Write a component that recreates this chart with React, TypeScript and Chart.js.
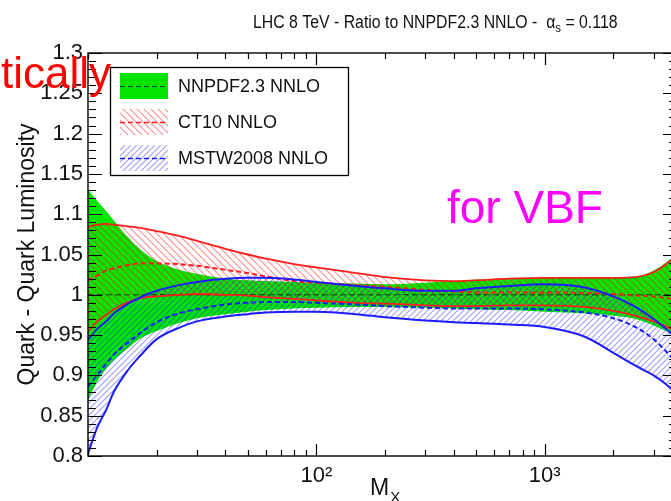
import React, { useEffect, useRef } from 'react';
import { Chart, registerables } from 'chart.js';

Chart.register(...registerables);

const FONT = '"Liberation Sans", Arial, Helvetica, sans-serif';

// M_X grid (GeV)
const massX = [10, 11, 12, 13, 15, 17, 20, 25, 30, 40, 50, 60, 80, 100, 150, 200, 300, 400, 500, 700, 1000, 1500, 2000, 2500, 3000, 3400, 3800];

// NNPDF2.3 NNLO band (ratio to itself)
const nnpdfUpper = [1.131, 1.116, 1.104, 1.092, 1.071, 1.056, 1.042, 1.031, 1.026, 1.020, 1.018, 1.017, 1.016, 1.015, 1.014, 1.013, 1.015, 1.017, 1.019, 1.020, 1.021, 1.021, 1.021, 1.022, 1.030, 1.040, 1.052];
const nnpdfLower = [0.869, 0.893, 0.908, 0.919, 0.934, 0.946, 0.955, 0.965, 0.971, 0.976, 0.979, 0.981, 0.983, 0.984, 0.985, 0.985, 0.984, 0.983, 0.982, 0.981, 0.979, 0.977, 0.974, 0.970, 0.962, 0.955, 0.947];
const nnpdfCentral = massX.map(() => 1.0);

// CT10 NNLO
const ct10Upper = [1.084, 1.087, 1.088, 1.087, 1.085, 1.083, 1.079, 1.073, 1.067, 1.057, 1.050, 1.045, 1.038, 1.034, 1.027, 1.022, 1.018, 1.017, 1.018, 1.020, 1.021, 1.021, 1.021, 1.022, 1.028, 1.038, 1.050];
const ct10Central = [1.018, 1.024, 1.030, 1.033, 1.037, 1.039, 1.039, 1.038, 1.036, 1.031, 1.027, 1.023, 1.017, 1.015, 1.012, 1.010, 1.006, 1.004, 1.003, 1.003, 1.003, 1.002, 1.001, 0.999, 0.998, 0.996, 0.994];
const ct10Lower = [0.954, 0.967, 0.975, 0.982, 0.991, 0.996, 0.998, 1.000, 1.001, 1.000, 0.999, 0.997, 0.995, 0.993, 0.990, 0.989, 0.987, 0.986, 0.986, 0.987, 0.987, 0.985, 0.980, 0.974, 0.967, 0.961, 0.954];

// MSTW2008 NNLO
const mstwUpper = [0.944, 0.958, 0.967, 0.977, 0.989, 0.997, 1.005, 1.012, 1.016, 1.020, 1.021, 1.021, 1.019, 1.016, 1.011, 1.008, 1.005, 1.005, 1.008, 1.011, 1.013, 1.009, 0.998, 0.985, 0.970, 0.958, 0.945];
const mstwCentral = [0.886, 0.901, 0.914, 0.926, 0.941, 0.953, 0.966, 0.977, 0.982, 0.988, 0.990, 0.991, 0.991, 0.990, 0.988, 0.986, 0.984, 0.983, 0.983, 0.983, 0.982, 0.978, 0.971, 0.960, 0.945, 0.930, 0.915];
const mstwLower = [0.803, 0.836, 0.857, 0.880, 0.907, 0.925, 0.945, 0.959, 0.967, 0.973, 0.976, 0.978, 0.979, 0.979, 0.976, 0.972, 0.968, 0.966, 0.965, 0.963, 0.960, 0.948, 0.928, 0.912, 0.900, 0.889, 0.876];

// axes
const xTickValues = [10, 20, 30, 40, 50, 60, 70, 80, 90, 100, 200, 300, 400, 500, 600, 700, 800, 900, 1000, 2000, 3000];
const xMajorValues = [100, 1000];
const xMajorLabels = ['10\u00B2', '10\u00B3'];
const yMin = 0.8;
const yMax = 1.3;
const yStep = 0.05;

const legendLabels = ['NNPDF2.3 NNLO', 'CT10 NNLO', 'MSTW2008 NNLO'];
const titleMain = 'LHC 8 TeV - Ratio to NNPDF2.3 NNLO -  ';
const titleAlpha = '\u03B1';
const titleSub = 's';
const titleTail = ' = 0.118';
const yAxisTitle = 'Quark - Quark Luminosity';
const xAxisTitle = 'M';
const xAxisSub = 'X';
const overlayRed = 'tically';
const overlayMagenta = 'for VBF';

const GREEN = '#00e400';
const RED = '#ff1c1c';
const BLUE = '#1c1cff';

function makeHatch(ctx: CanvasRenderingContext2D, color: string, size: number, forward: boolean) {
  const c = document.createElement('canvas');
  c.width = size;
  c.height = size;
  const g = c.getContext('2d')!;
  g.strokeStyle = color;
  g.lineWidth = 1.1;
  g.beginPath();
  for (let k = -1; k <= 1; k++) {
    if (forward) {
      g.moveTo(0, size + k * size);
      g.lineTo(size, k * size);
    } else {
      g.moveTo(0, k * size);
      g.lineTo(size, size + k * size);
    }
  }
  g.stroke();
  return ctx.createPattern(c, 'repeat')!;
}

export default function App() {
  const ref = useRef<HTMLCanvasElement | null>(null);

  useEffect(() => {
    const canvas = ref.current!;
    const ctx = canvas.getContext('2d')!;
    const redPat = makeHatch(ctx, 'rgba(255,30,30,0.5)', 7, false);
    const bluePat = makeHatch(ctx, 'rgba(40,40,255,0.45)', 6, true);

    const pts = (arr: number[]) => massX.map((x, i) => ({ x, y: arr[i] }));
    const base = { pointRadius: 0, cubicInterpolationMode: 'monotone' as const };

    const decor = {
      id: 'decor',
      afterDraw(chart: any) {
        const c = chart.ctx as CanvasRenderingContext2D;
        const { left, right, top, bottom } = chart.chartArea;
        const xs = chart.scales.x;
        const ys = chart.scales.y;
        c.save();
        // frame
        c.strokeStyle = '#000';
        c.lineWidth = 1.4;
        c.strokeRect(left, top, right - left, bottom - top);
        c.lineWidth = 1.2;
        c.beginPath();
        const nY = Math.round((yMax - yMin) / 0.01);
        for (let i = 0; i <= nY; i++) {
          const v = yMin + i * 0.01;
          const py = Math.round(ys.getPixelForValue(v)) + 0.5;
          const len = i % 5 === 0 ? 14 : 8;
          c.moveTo(left, py);
          c.lineTo(left + len, py);
          c.moveTo(right, py);
          c.lineTo(right - len, py);
        }
        for (const v of xTickValues) {
          const px = Math.round(xs.getPixelForValue(v)) + 0.5;
          const len = xMajorValues.includes(v) ? 12 : 6;
          c.moveTo(px, bottom);
          c.lineTo(px, bottom - len);
          c.moveTo(px, top);
          c.lineTo(px, top + len);
        }
        c.stroke();

        // legend
        const lx = 110, ly = 67, lw = 238, lh = 108;
        c.fillStyle = '#fff';
        c.fillRect(lx, ly, lw, lh);
        c.strokeStyle = '#000';
        c.lineWidth = 1.3;
        c.strokeRect(lx + 0.5, ly + 0.5, lw, lh);
        const rows = [73, 109, 145];
        const fills: any[] = [GREEN, redPat, bluePat];
        const dashCols = ['rgba(0,0,0,0.75)', RED, BLUE];
        rows.forEach((ry, i) => {
          c.fillStyle = fills[i];
          c.fillRect(120, ry, 48, 26);
          c.save();
          c.strokeStyle = dashCols[i];
          c.lineWidth = i === 0 ? 1 : 1.5;
          c.setLineDash([5, 3]);
          c.beginPath();
          c.moveTo(120, ry + 13.5);
          c.lineTo(168, ry + 13.5);
          c.stroke();
          c.restore();
          c.fillStyle = '#111';
          c.font = `18px ${FONT}`;
          c.textBaseline = 'middle';
          c.textAlign = 'left';
          c.fillText(legendLabels[i], 178, ry + 14);
        });

        // title (slightly condensed)
        c.save();
        c.fillStyle = '#111';
        c.textBaseline = 'alphabetic';
        c.textAlign = 'left';
        c.translate(253, 28);
        c.scale(0.88, 1);
        c.font = `18px ${FONT}`;
        let tx = 0;
        c.fillText(titleMain, tx, 0);
        tx += c.measureText(titleMain).width;
        c.fillText(titleAlpha, tx, 0);
        tx += c.measureText(titleAlpha).width;
        c.font = `13px ${FONT}`;
        c.fillText(titleSub, tx, 4);
        tx += c.measureText(titleSub).width;
        c.font = `18px ${FONT}`;
        c.fillText(titleTail, tx, 0);
        c.restore();

        // y axis title
        c.save();
        c.fillStyle = '#111';
        c.translate(34, (top + bottom) / 2);
        c.rotate(-Math.PI / 2);
        c.textAlign = 'center';
        c.textBaseline = 'alphabetic';
        c.font = `23px ${FONT}`;
        c.fillText(yAxisTitle, 0, 0);
        c.restore();

        // x axis title
        c.fillStyle = '#111';
        c.textBaseline = 'alphabetic';
        c.font = `23px ${FONT}`;
        c.textAlign = 'left';
        c.fillText(xAxisTitle, 370, 495);
        const mw = c.measureText(xAxisTitle).width;
        c.font = `15px ${FONT}`;
        c.fillText(xAxisSub, 370 + mw + 1, 502);

        // overlays
        c.font = `44px ${FONT}`;
        c.fillStyle = '#ff0000';
        c.textAlign = 'right';
        c.fillText(overlayRed, 111, 88);
        c.font = `46px ${FONT}`;
        c.fillStyle = '#ff00ff';
        c.textAlign = 'left';
        c.fillText(overlayMagenta, 447, 223);
        c.restore();
      },
    };

    const chart = new Chart(ctx, {
      type: 'line',
      data: {
        datasets: [
          { ...base, data: pts(mstwUpper), borderColor: BLUE, borderWidth: 2, fill: '+1', backgroundColor: bluePat },
          { ...base, data: pts(mstwLower), borderColor: BLUE, borderWidth: 2, fill: false },
          { ...base, data: pts(mstwCentral), borderColor: BLUE, borderWidth: 2, borderDash: [5, 3], fill: false },
          { ...base, data: pts(ct10Upper), borderColor: RED, borderWidth: 1.8, fill: '+1', backgroundColor: redPat },
          { ...base, data: pts(ct10Lower), borderColor: RED, borderWidth: 1.8, fill: false },
          { ...base, data: pts(ct10Central), borderColor: RED, borderWidth: 2, borderDash: [5, 3], fill: false },
          { ...base, data: pts(nnpdfUpper), borderColor: 'rgba(0,0,0,0)', borderWidth: 1, fill: '+1', backgroundColor: GREEN },
          { ...base, data: pts(nnpdfLower), borderColor: 'rgba(0,0,0,0)', borderWidth: 1, fill: false },
          { ...base, data: pts(nnpdfCentral), borderColor: 'rgba(0,0,0,0.75)', borderWidth: 1, borderDash: [6, 3], fill: false },
        ],
      },
      options: {
        responsive: false,
        animation: false,
        events: [],
        layout: { padding: { top: 53, right: 3, left: 0, bottom: 0 } },
        plugins: {
          legend: { display: false },
          tooltip: { enabled: false },
          title: { display: false },
          filler: { drawTime: 'beforeDatasetsDraw' },
        } as any,
        scales: {
          x: {
            type: 'logarithmic',
            min: 10,
            max: 3800,
            grid: { display: false, drawTicks: false },
            border: { display: false },
            afterBuildTicks: (s: any) => {
              s.ticks = xTickValues.map((v) => ({ value: v }));
            },
            afterFit: (s: any) => {
              s.height = 45;
            },
            ticks: {
              autoSkip: false,
              maxRotation: 0,
              minRotation: 0,
              padding: 7,
              color: '#111',
              font: { size: 22, family: FONT },
              callback: (v: any) => {
                const k = xMajorValues.indexOf(Number(v));
                return k >= 0 ? xMajorLabels[k] : '';
              },
            },
          },
          y: {
            min: yMin,
            max: yMax,
            grid: { display: false, drawTicks: false },
            border: { display: false },
            afterFit: (s: any) => {
              s.width = 88;
            },
            ticks: {
              stepSize: yStep,
              padding: 5,
              color: '#111',
              font: { size: 22, family: FONT },
              callback: (v: any) => String(parseFloat(Number(v).toFixed(2))),
            },
          },
        },
      } as any,
      plugins: [decor],
    });
    return () => chart.destroy();
  }, []);

  return (
    <div style={{ position: 'fixed', left: 0, top: 0, width: 671, height: 501, overflow: 'hidden', background: '#fff' }}>
      <canvas ref={ref} width={680} height={501} style={{ display: 'block', width: 680, height: 501 }} />
    </div>
  );
}
